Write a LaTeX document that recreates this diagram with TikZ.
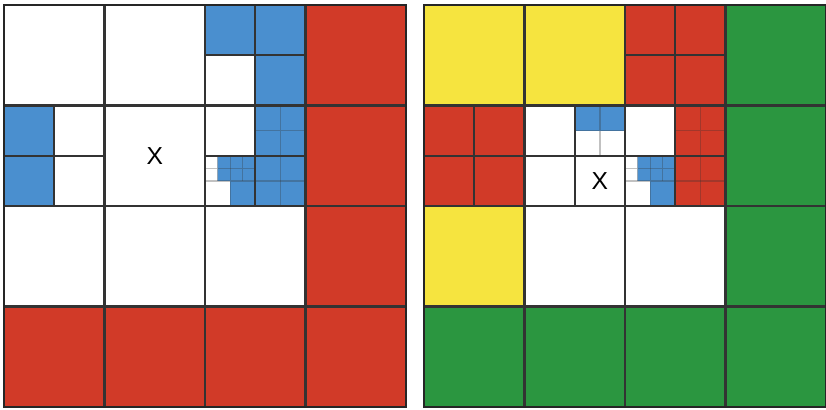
\documentclass[tikz,border=0pt]{standalone}
\usepackage{fontspec}
\setsansfont{Liberation Sans}
\definecolor{qblue}{HTML}{4A8FCF}
\definecolor{qred}{HTML}{D13A28}
\definecolor{qyellow}{HTML}{F6E43F}
\definecolor{qgreen}{HTML}{2B9640}
\definecolor{linegray}{HTML}{333333}
\begin{document}
\begin{tikzpicture}[
  mainline/.style={draw=linegray,line width=0.65pt},
  quarterline/.style={draw=linegray,line width=0.55pt},
  subline/.style={draw=linegray,line width=0.35pt,opacity=0.3},
  frameline/.style={draw=black!85,line width=0.8pt},
  xlabel/.style={font=\sffamily\fontsize{7}{8}\selectfont,inner sep=0pt}
]
\useasboundingbox (0,0) rectangle (8.26,4.09);
% 左图
\begin{scope}[shift={(0.04,4.04)},x=1.005cm,y=-1.005cm]
\fill[qred] (3,0) rectangle (4,4) (0,3) rectangle (4,4);
\fill[qblue] (2,0) rectangle (2.5,0.5) (2.5,0) rectangle (3,1);
\fill[qblue] (0,1) rectangle (0.5,2);
\fill[qblue] (2.5,1) rectangle (3,2) (2.25,1.5) rectangle (2.5,2) (2.125,1.5) rectangle (2.25,1.75);
\foreach \k in {1,2,3} {
  \draw[mainline] (\k,0) -- (\k,4);
  \draw[mainline] (0,\k) -- (4,\k);
}
\draw[quarterline] (2.5,0) -- (2.5,1) (2,0.5) -- (3,0.5);
\draw[quarterline] (0.5,1) -- (0.5,2) (0,1.5) -- (1,1.5);
\draw[quarterline] (2.5,1) -- (2.5,2) (2,1.5) -- (3,1.5);
\draw[subline] (2.25,1.5) -- (2.25,2) (2,1.75) -- (3,1.75);
\draw[subline] (2.125,1.5) -- (2.125,1.75) (2,1.625) -- (2.5,1.625) (2.375,1.5) -- (2.375,1.75);
\draw[subline] (2.75,1) -- (2.75,2) (2.5,1.25) -- (3,1.25);
\draw[frameline] (0,0) rectangle (4,4);
\node[xlabel] (xleft) at (1.5,1.5) {X};
\end{scope}
% 右图
\begin{scope}[shift={(4.24,4.04)},x=1.005cm,y=-1.005cm]
\fill[qgreen] (3,0) rectangle (4,4) (0,3) rectangle (4,4);
\fill[qyellow] (0,0) rectangle (2,1) (0,2) rectangle (1,3);
\fill[qred] (2,0) rectangle (3,1) (0,1) rectangle (1,2) (2.5,1) rectangle (3,2);
\fill[qblue] (1.5,1) rectangle (2,1.25);
\fill[qblue] (2.25,1.5) rectangle (2.5,2) (2.125,1.5) rectangle (2.25,1.75);
\foreach \k in {1,2,3} {
  \draw[mainline] (\k,0) -- (\k,4);
  \draw[mainline] (0,\k) -- (4,\k);
}
\draw[quarterline] (2.5,0) -- (2.5,1) (2,0.5) -- (3,0.5);
\draw[quarterline] (0.5,1) -- (0.5,2) (0,1.5) -- (1,1.5);
\draw[quarterline] (1.5,1) -- (1.5,2) (1,1.5) -- (2,1.5);
\draw[quarterline] (2.5,1) -- (2.5,2) (2,1.5) -- (3,1.5);
\draw[subline] (1.75,1) -- (1.75,1.5) (1.5,1.25) -- (2,1.25);
\draw[subline] (2.25,1.5) -- (2.25,2) (2,1.75) -- (3,1.75);
\draw[subline] (2.125,1.5) -- (2.125,1.75) (2,1.625) -- (2.5,1.625) (2.375,1.5) -- (2.375,1.75);
\draw[subline] (2.75,1) -- (2.75,2) (2.5,1.25) -- (3,1.25);
\draw[frameline] (0,0) rectangle (4,4);
\node[xlabel] (xright) at (1.75,1.75) {X};
\end{scope}
\end{tikzpicture}
\end{document}
